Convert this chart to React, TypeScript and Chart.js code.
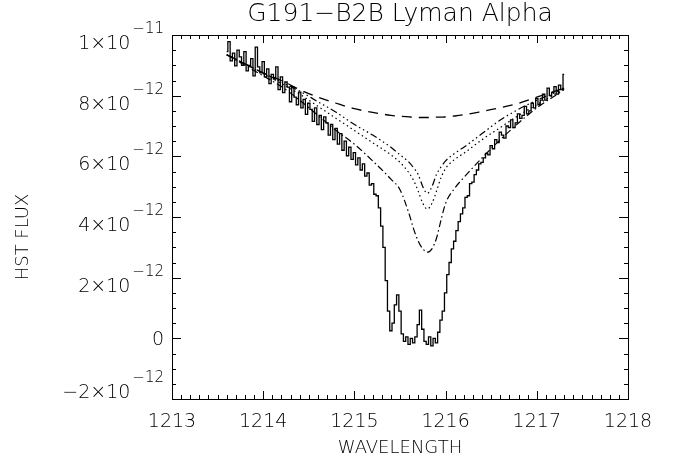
import React, { useEffect, useRef } from "react";
import { Chart, registerables } from "chart.js";

Chart.register(...registerables);

// ---------- data (flux in units of 1e-12) ----------
const OBS_WAVE = [
  1213.600, 1213.625, 1213.650, 1213.675, 1213.700, 1213.725, 1213.750, 1213.775, 1213.800, 1213.825,
  1213.850, 1213.875, 1213.900, 1213.925, 1213.950, 1213.975, 1214.000, 1214.025, 1214.050, 1214.075,
  1214.100, 1214.125, 1214.150, 1214.175, 1214.200, 1214.225, 1214.250, 1214.275, 1214.300, 1214.325,
  1214.350, 1214.375, 1214.400, 1214.425, 1214.450, 1214.475, 1214.500, 1214.525, 1214.550, 1214.575,
  1214.600, 1214.625, 1214.650, 1214.675, 1214.700, 1214.725, 1214.750, 1214.775, 1214.800, 1214.825,
  1214.850, 1214.875, 1214.900, 1214.925, 1214.950, 1214.975, 1215.000, 1215.025, 1215.050, 1215.075,
  1215.100, 1215.125, 1215.150, 1215.175, 1215.200, 1215.225, 1215.250, 1215.275, 1215.300, 1215.325,
  1215.350, 1215.375, 1215.400, 1215.425, 1215.450, 1215.475, 1215.500, 1215.525, 1215.550, 1215.575,
  1215.600, 1215.625, 1215.650, 1215.675, 1215.700, 1215.725, 1215.750, 1215.775, 1215.800, 1215.825,
  1215.850, 1215.875, 1215.900, 1215.925, 1215.950, 1215.975, 1216.000, 1216.025, 1216.050, 1216.075,
  1216.100, 1216.125, 1216.150, 1216.175, 1216.200, 1216.225, 1216.250, 1216.275, 1216.300, 1216.325,
  1216.350, 1216.375, 1216.400, 1216.425, 1216.450, 1216.475, 1216.500, 1216.525, 1216.550, 1216.575,
  1216.600, 1216.625, 1216.650, 1216.675, 1216.700, 1216.725, 1216.750, 1216.775, 1216.800, 1216.825,
  1216.850, 1216.875, 1216.900, 1216.925, 1216.950, 1216.975, 1217.000, 1217.025, 1217.050, 1217.075,
  1217.100, 1217.125, 1217.150, 1217.175, 1217.200, 1217.225, 1217.250, 1217.275, 1217.300,
];

const OBS_FLUX = [
  9.45, 9.78, 9.15, 9.40, 8.98, 9.50, 9.28, 9.00, 9.45, 8.82,
  9.00, 9.22, 8.65, 9.60, 8.95, 8.75, 9.12, 8.62, 8.88, 8.40,
  8.70, 8.55, 8.95, 8.20, 8.62, 8.10, 8.45, 8.28, 7.80, 8.30,
  7.95, 7.70, 8.12, 7.60, 7.88, 7.38, 7.75, 7.55, 7.15, 7.60,
  7.05, 7.35, 6.88, 7.30, 7.10, 6.70, 7.05, 6.55, 6.92, 6.40,
  6.75, 6.20, 6.50, 6.02, 6.30, 5.90, 6.12, 5.72, 5.95, 5.55,
  5.75, 5.35, 5.45, 5.05, 5.10, 4.75, 4.70, 4.30, 3.70, 3.00,
  1.90, 0.90, 0.25, 0.50, 1.10, 1.43, 0.90, 0.15, -0.10, 0.05,
  -0.20, 0.00, -0.15, 0.05, 0.45, 0.93, 0.30, -0.10, -0.20, 0.05,
  -0.25, 0.00, -0.15, 0.20, 0.60, 0.90, 1.50, 2.10, 2.50, 2.95,
  3.20, 3.55, 3.85, 4.10, 4.30, 4.65, 4.70, 5.10, 5.15, 5.40,
  5.55, 5.75, 5.80, 5.95, 6.10, 6.05, 6.35, 6.25, 6.55, 6.45,
  6.80, 6.70, 6.60, 7.00, 6.95, 7.20, 6.95, 7.10, 7.40, 7.25,
  7.35, 7.65, 7.40, 7.50, 7.75, 7.60, 7.90, 7.70, 7.85, 8.05,
  7.85, 8.25, 8.00, 8.10, 8.30, 8.05, 8.35, 8.20, 8.70,
];

const MODEL_WAVE = [
  1213.6, 1213.8, 1214.0, 1214.2, 1214.4, 1214.6, 1214.8, 1215.0, 1215.2, 1215.4,
  1215.5, 1215.6, 1215.65, 1215.7, 1215.75, 1215.8, 1215.85, 1215.9, 1215.95, 1216.0,
  1216.1, 1216.2, 1216.4, 1216.6, 1216.8, 1217.0, 1217.2, 1217.3,
];

// dashed: unabsorbed continuum
const MODEL_CONTINUUM = [
  9.35, 9.05, 8.75, 8.50, 8.20, 7.95, 7.75, 7.57, 7.45, 7.35,
  7.32, 7.30, 7.29, 7.28, 7.28, 7.28, 7.28, 7.29, 7.29, 7.30,
  7.33, 7.37, 7.48, 7.60, 7.75, 7.95, 8.15, 8.25,
];

// dash-dot-dot-dot
const MODEL_A = [
  9.35, 9.05, 8.75, 8.45, 8.15, 7.80, 7.45, 7.05, 6.70, 6.30,
  6.05, 5.80, 5.62, 5.40, 5.00, 4.78, 5.00, 5.40, 5.65, 5.85,
  6.10, 6.30, 6.75, 7.20, 7.55, 7.85, 8.10, 8.25,
];

// dotted
const MODEL_B = [
  9.35, 9.05, 8.72, 8.40, 8.05, 7.65, 7.25, 6.85, 6.45, 6.05,
  5.80, 5.45, 5.20, 4.85, 4.45, 4.26, 4.45, 4.85, 5.30, 5.60,
  5.90, 6.10, 6.55, 6.95, 7.35, 7.70, 8.05, 8.25,
];

// dash-dot
const MODEL_C = [
  9.35, 9.00, 8.65, 8.30, 7.85, 7.35, 6.85, 6.40, 5.85, 5.25,
  4.90, 4.10, 3.60, 3.20, 2.95, 2.84, 2.95, 3.30, 3.90, 4.45,
  4.95, 5.30, 5.95, 6.55, 7.10, 7.60, 8.00, 8.20,
];

const X_MIN = 1213;
const X_MAX = 1218;
const X_MAJOR = [1213, 1214, 1215, 1216, 1217, 1218];
const X_MINOR_STEP = 0.1;
const Y_MIN = -2;
const Y_MAX = 10;
const Y_MAJOR = [-2, 0, 2, 4, 6, 8, 10];
const Y_MINOR_STEP = 0.5;
const Y_LABEL_MANT = ["\u22122\u00d710", "0", "2\u00d710", "4\u00d710", "6\u00d710", "8\u00d710", "1\u00d710"];
const Y_LABEL_EXP = ["\u221212", "", "\u221212", "\u221212", "\u221212", "\u221212", "\u221211"];

const TITLE = "G191\u2212B2B Lyman Alpha";
const X_TITLE = "WAVELENGTH";
const Y_TITLE = "HST FLUX";

const FONT_FAMILY = '"DejaVu Sans", sans-serif';

function pts(xs: number[], ys: number[]) {
  return xs.map((x, i) => ({ x, y: ys[i] }));
}

const idlAxes = {
  id: "idlAxes",
  afterDraw(chart: any) {
    const ctx = chart.ctx as CanvasRenderingContext2D;
    const { left, right, top, bottom } = chart.chartArea;
    const xs = chart.scales.x;
    const ys = chart.scales.y;
    ctx.save();
    ctx.strokeStyle = "#000";
    ctx.fillStyle = "#000";
    ctx.lineWidth = 1;
    // box
    ctx.strokeRect(Math.round(left) + 0.5, Math.round(top) + 0.5, Math.round(right - left), Math.round(bottom - top));

    // x ticks (bottom & top, pointing inward)
    const nx = Math.round((X_MAX - X_MIN) / X_MINOR_STEP);
    ctx.beginPath();
    for (let k = 0; k <= nx; k++) {
      const v = X_MIN + k * X_MINOR_STEP;
      const major = X_MAJOR.some((m) => Math.abs(m - v) < 1e-6);
      const len = major ? 8 : 4;
      const px = Math.round(xs.getPixelForValue(v)) + 0.5;
      ctx.moveTo(px, bottom);
      ctx.lineTo(px, bottom - len);
      ctx.moveTo(px, top);
      ctx.lineTo(px, top + len);
    }
    // y ticks (left & right)
    const ny = Math.round((Y_MAX - Y_MIN) / Y_MINOR_STEP);
    for (let k = 0; k <= ny; k++) {
      const v = Y_MIN + k * Y_MINOR_STEP;
      const major = Y_MAJOR.some((m) => Math.abs(m - v) < 1e-6);
      const len = major ? 9 : 4;
      const py = Math.round(ys.getPixelForValue(v)) + 0.5;
      ctx.moveTo(left, py);
      ctx.lineTo(left + len, py);
      ctx.moveTo(right, py);
      ctx.lineTo(right - len, py);
    }
    ctx.stroke();

    // x tick labels
    ctx.font = `300 19px ${FONT_FAMILY}`;
    ctx.textAlign = "center";
    ctx.textBaseline = "middle";
    X_MAJOR.forEach((v) => {
      ctx.fillText(String(v), xs.getPixelForValue(v), bottom + 23);
    });

    // y tick labels with exponent
    const labelRight = left - 8;
    Y_MAJOR.forEach((v, i) => {
      let py = ys.getPixelForValue(v);
      if (v === Y_MIN) py -= 15;
      const mant = Y_LABEL_MANT[i];
      const exp = Y_LABEL_EXP[i];
      ctx.textAlign = "right";
      ctx.textBaseline = "middle";
      if (exp) {
        ctx.font = `300 15px ${FONT_FAMILY}`;
        const ew = ctx.measureText(exp).width;
        ctx.fillText(exp, labelRight, py - 6);
        ctx.font = `300 19px ${FONT_FAMILY}`;
        ctx.fillText(mant, labelRight - ew - 2, py + 9);
      } else {
        ctx.font = `300 19px ${FONT_FAMILY}`;
        ctx.fillText(mant, labelRight, py + 2);
      }
    });

    // titles
    ctx.textAlign = "center";
    ctx.textBaseline = "middle";
    ctx.font = `300 25px ${FONT_FAMILY}`;
    ctx.fillText(TITLE, (left + right) / 2, 14);
    ctx.font = `300 18px ${FONT_FAMILY}`;
    ctx.fillText(X_TITLE, (left + right) / 2, 448);
    ctx.save();
    ctx.translate(23, 237);
    ctx.rotate(-Math.PI / 2);
    ctx.fillText(Y_TITLE, 0, 0);
    ctx.restore();
    ctx.restore();
  },
};

export default function App() {
  const ref = useRef<HTMLCanvasElement | null>(null);
  useEffect(() => {
    if (!ref.current) return;
    const common = { pointRadius: 0, fill: false, borderColor: "#000" };
    const chart = new Chart(ref.current, {
      type: "line",
      data: {
        datasets: [
          { ...common, label: "continuum", data: pts(MODEL_WAVE, MODEL_CONTINUUM), borderWidth: 1.3, borderDash: [10, 7], cubicInterpolationMode: "monotone" },
          { ...common, label: "model A", data: pts(MODEL_WAVE, MODEL_A), borderWidth: 1.2, borderDash: [7, 3, 1.5, 3, 1.5, 3, 1.5, 3], cubicInterpolationMode: "monotone" },
          { ...common, label: "model B", data: pts(MODEL_WAVE, MODEL_B), borderWidth: 1.2, borderDash: [1.5, 3], cubicInterpolationMode: "monotone" },
          { ...common, label: "model C", data: pts(MODEL_WAVE, MODEL_C), borderWidth: 1.2, borderDash: [7, 3, 1.5, 3], cubicInterpolationMode: "monotone" },
          { ...common, label: "observed", data: pts(OBS_WAVE, OBS_FLUX), borderWidth: 1.3, stepped: "middle" },
        ],
      } as any,
      options: {
        animation: false,
        responsive: false,
        devicePixelRatio: 1,
        layout: { padding: { left: 172, right: 50, top: 35, bottom: 61 } },
        plugins: { legend: { display: false }, tooltip: { enabled: false }, title: { display: false } },
        scales: {
          x: { type: "linear", min: X_MIN, max: X_MAX, display: false },
          y: { type: "linear", min: Y_MIN, max: Y_MAX, display: false },
        },
      },
      plugins: [idlAxes],
    });
    return () => chart.destroy();
  }, []);
  return (
    <div style={{ position: "fixed", left: 0, top: 0, width: 678, height: 460, background: "#fff" }}>
      <canvas ref={ref} width={678} height={460} />
    </div>
  );
}
